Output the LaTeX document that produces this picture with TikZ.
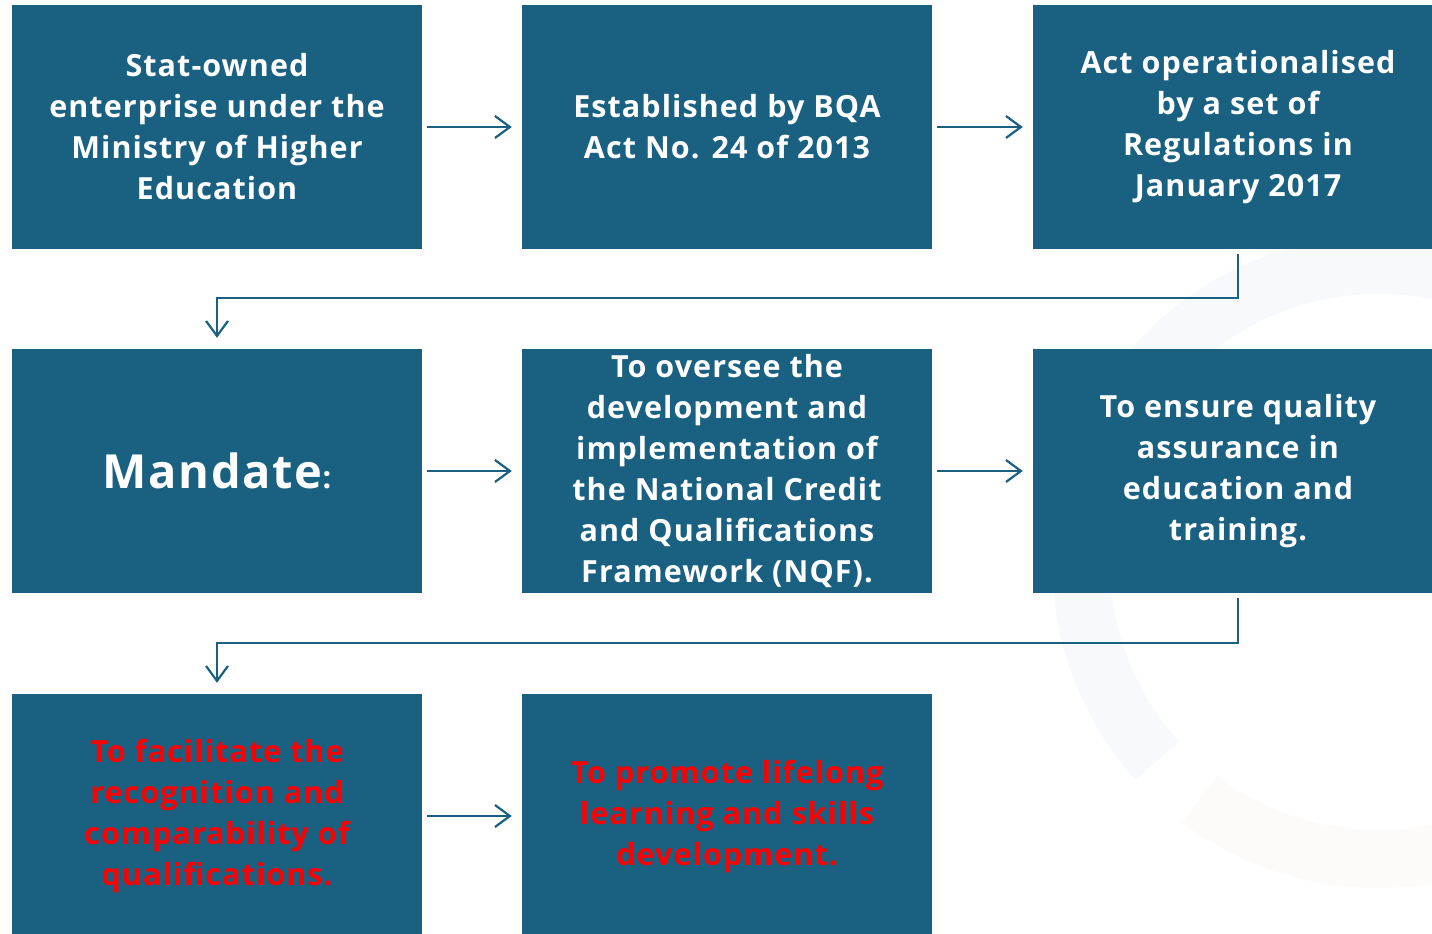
\documentclass[tikz,border=0pt]{standalone}
\usepackage{fontspec}
\setmainfont{Open Sans}[LetterSpace=3.5]
\usetikzlibrary{arrows.meta,calc}
\definecolor{boxblue}{RGB}{25,96,129}
\definecolor{arcA}{RGB}{248,249,252}
\definecolor{arcB}{RGB}{252,251,250}
\definecolor{txtred}{RGB}{255,0,0}
\begin{document}
\begin{tikzpicture}[x=1pt,y=-1pt,
  box/.style={fill=boxblue, minimum width=410pt, minimum height=244pt, inner sep=0pt,
    text=white, align=center, font=\fontsize{30.5}{41}\selectfont\bfseries},
  redtext/.style={text=txtred},
  conn/.style={draw=boxblue, line width=2.2pt, line join=miter,
    -{Straight Barb[length=15pt,width=22pt]}}]
\useasboundingbox (0,0) rectangle (1432,934);
\clip (0,0) rectangle (1432,934);
% faint background ring
\coordinate (rc) at (1378,562);
\fill[arcA] ($(rc)+(290:326)$) arc[start angle=290,end angle=138,radius=326]
  -- ($(rc)+(138:268)$) arc[start angle=138,end angle=290,radius=268] -- cycle;
\fill[arcB] ($(rc)+(127:326)$) arc[start angle=127,end angle=50,radius=326]
  -- ($(rc)+(50:268)$) arc[start angle=50,end angle=127,radius=268] -- cycle;
% boxes
\node[box] (b1) at (217,127) {Stat-owned\\enterprise under the\\Ministry of Higher\\Education};
\node[box] (b2) at (727,127) {Established by BQA\\Act No. 24 of 2013};
\node[box] (b3) at (1238,127) {Act operationalised\\by a set of\\Regulations in\\January 2017};
\node[box] (b4) at (217,471) {{\fontsize{47}{50}\selectfont Mandate}:};
\node[box] (b5) at (727,471) {To oversee the\\development and\\implementation of\\the National Credit\\and Qualifications\\Framework (NQF).};
\node[box] (b6) at (1238,471) {To ensure quality\\assurance in\\education and\\training.};
\node[box, redtext] (b7) at (217,816) {To facilitate the\\recognition and\\comparability of\\qualifications.};
\node[box, redtext] (b8) at (727,816) {To promote lifelong\\learning and skills\\development.};
% connectors
\draw[conn, shorten <=5pt, shorten >=10pt] (b1.east) -- (b2.west);
\draw[conn, shorten <=5pt, shorten >=10pt] (b2.east) -- (b3.west);
\draw[conn, shorten <=5pt, shorten >=10pt] (b4.east) -- (b5.west);
\draw[conn, shorten <=5pt, shorten >=10pt] (b5.east) -- (b6.west);
\draw[conn, shorten <=5pt, shorten >=10pt] (b7.east) -- (b8.west);
\coordinate (j1) at (0,298);
\coordinate (j2) at (0,643);
\draw[conn, shorten <=5pt, shorten >=11pt] (b3.south) -- (b3.south |- j1) -| (b4.north);
\draw[conn, shorten <=5pt, shorten >=11pt] (b6.south) -- (b6.south |- j2) -| (b7.north);
\end{tikzpicture}
\end{document}
